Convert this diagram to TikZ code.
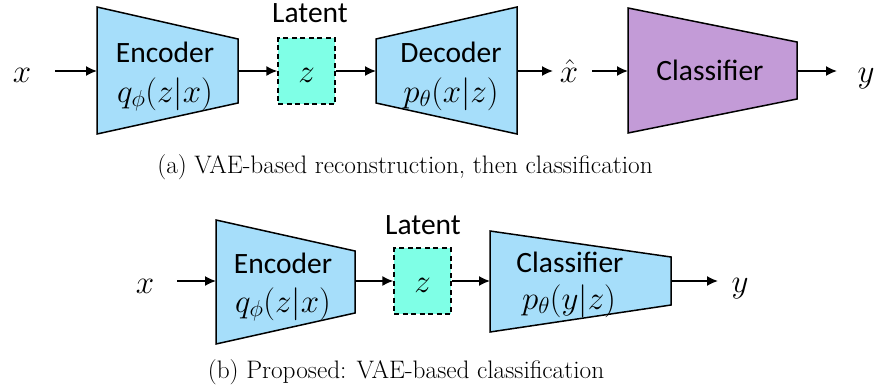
\RequirePackage{fix-cm}
\documentclass[tikz,border=0pt]{standalone}
\usepackage{fontspec}
\setsansfont{Carlito}
\usetikzlibrary{arrows.meta}
\definecolor{encblue}{RGB}{166,222,250}
\definecolor{latcyan}{RGB}{127,255,230}
\definecolor{clspurple}{RGB}{195,155,215}
\tikzset{
  block/.style={draw=black,line width=1.5pt,line join=miter},
  latbox/.style={draw=black,line width=1.4pt,dash pattern=on 5pt off 3.5pt,fill=latcyan,minimum width=57pt,minimum height=66pt,inner sep=0pt},
  conn/.style={line width=1.6pt,-{Latex[length=11pt,width=10pt]}},
  lbl/.style={font=\sffamily\fontsize{29.5}{34}\selectfont,anchor=base,inner sep=0pt},
  mth/.style={font=\fontsize{33}{38}\selectfont,anchor=base,inner sep=0pt},
  captxt/.style={font=\rmfamily\fontsize{25.3}{30}\selectfont,anchor=base,inner sep=0pt}
}
\begin{document}
\begin{tikzpicture}[x=1pt,y=-1pt]
\useasboundingbox (0,0) rectangle (876,391);
% ---------- top row ----------
\filldraw[block,fill=encblue] (97,7) -- (238,39) -- (238,103) -- (97,134) -- cycle;
\filldraw[block,fill=encblue] (376,39) -- (517,7) -- (517,134) -- (376,103) -- cycle;
\filldraw[block,fill=clspurple] (628,8) -- (797,42) -- (797,99) -- (628,133) -- cycle;
\coordinate (encAin) at (97,71);
\coordinate (encAout) at (238,71);
\coordinate (decAin) at (376,71);
\coordinate (decAout) at (517,71);
\coordinate (clsAin) at (628,71);
\coordinate (clsAout) at (797,71);
\node[latbox] (zA) at (306.5,71) {};
\node[mth] (zAt) at (306.5,82) {$z$};
\node[lbl] (latA) at (310,22) {Latent};
\node[lbl] (encAt) at (165,62) {Encoder};
\node[mth] (encAm) at (165,102) {$q_{\phi}(z|x)$};
\node[lbl] (decAt) at (451,62) {Decoder};
\node[mth] (decAm) at (451,102) {$p_{\theta}(x|z)$};
\node[lbl] (clsAt) at (710,80) {Classifier};
\node[mth] (xA) at (22,82) {$x$};
\node[mth] (xhA) at (569,82) {$\hat{x}$};
\node[mth] (yA) at (866,82) {$y$};
\coordinate (xAout) at (55,71);
\coordinate (xhAin) at (553,71);
\coordinate (xhAout) at (592,71);
\coordinate (yAin) at (837,71);
\draw[conn] (xAout) -- (encAin);
\draw[conn] (encAout) -- (zA.west);
\draw[conn] (zA.east) -- (decAin);
\draw[conn] (decAout) -- (xhAin);
\draw[conn] (xhAout) -- (clsAin);
\draw[conn] (clsAout) -- (yAin);
\node[captxt] (capA) at (405,173) {(a) VAE-based reconstruction, then classification};
% ---------- bottom row ----------
\filldraw[block,fill=encblue] (216,220) -- (355,251) -- (355,313) -- (216,344) -- cycle;
\filldraw[block,fill=encblue] (490,231) -- (671,257) -- (671,305) -- (490,332) -- cycle;
\coordinate (encBin) at (216,281);
\coordinate (encBout) at (355,281);
\coordinate (clsBin) at (490,281);
\coordinate (clsBout) at (671,281);
\node[latbox] (zB) at (422.5,281) {};
\node[mth] (zBt) at (422.5,292) {$z$};
\node[lbl] (latB) at (423,234) {Latent};
\node[lbl] (encBt) at (283,273) {Encoder};
\node[mth] (encBm) at (283,312) {$q_{\phi}(z|x)$};
\node[lbl] (clsBt) at (570,272) {Classifier};
\node[mth] (clsBm) at (569,309) {$p_{\theta}(y|z)$};
\node[mth] (xB) at (145,293) {$x$};
\node[mth] (yB) at (740,292) {$y$};
\coordinate (xBout) at (177,281);
\coordinate (yBin) at (718,281);
\draw[conn] (xBout) -- (encBin);
\draw[conn] (encBout) -- (zB.west);
\draw[conn] (zB.east) -- (clsBin);
\draw[conn] (clsBout) -- (yBin);
\node[captxt] (capB) at (406,378) {(b) Proposed: VAE-based classification};
\end{tikzpicture}
\end{document}
